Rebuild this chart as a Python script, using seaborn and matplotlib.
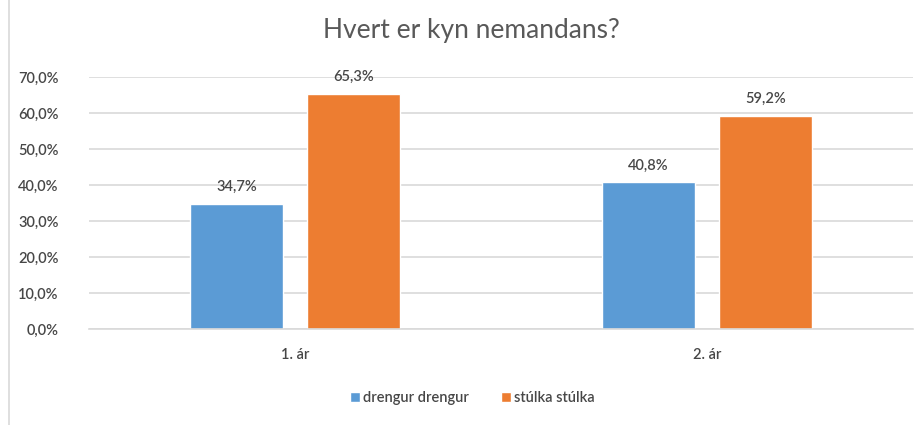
import numpy as np
import pandas as pd
import seaborn as sns
import matplotlib.pyplot as plt
from matplotlib.lines import Line2D

# gögn lesin af myndinni
ar = ['1. ár', '2. ár']
drengur = [34.7, 40.8]
stulka = [65.3, 59.2]
kyn = ['drengur drengur', 'stúlka stúlka']
y_ticks = [0, 10, 20, 30, 40, 50, 60, 70]

df = pd.DataFrame({
    'ar': ar * 2,
    'kyn': [kyn[0]] * 2 + [kyn[1]] * 2,
    'hlutfall': drengur + stulka,
})

sns.set_style('white')
plt.rcParams['font.family'] = ['Lato', 'DejaVu Sans']

fig = plt.figure(figsize=(9.22, 4.25), dpi=100)
ax = fig.add_axes([89 / 922, 96 / 425, 824 / 922, 252 / 425])

sns.barplot(data=df, x='ar', y='hlutfall', hue='kyn', order=ar, hue_order=kyn,
            palette=['#5B9BD5', '#ED7D31'], width=0.568, gap=0.205,
            saturation=1, ax=ax, legend=True)

tekst = '#474747'
for cont in ax.containers:
    ax.bar_label(cont, labels=[f'{v:.1f}%'.replace('.', ',') for v in cont.datavalues],
                 padding=7, fontsize=10.5, color=tekst, fontweight='semibold')

ax.set_ylim(0, 70)
ax.set_yticks(y_ticks)
ax.set_yticklabels([f'{t:.1f}%'.replace('.', ',') for t in y_ticks], fontsize=10.5,
                   color=tekst, fontweight='semibold')
for lbl in ax.get_xticklabels():
    lbl.set_fontweight('semibold')
ax.tick_params(axis='x', labelsize=10.5, labelcolor=tekst, pad=14, length=0)
ax.tick_params(axis='y', length=0, pad=22)
ax.yaxis.grid(True, color='#D9D9D9', linewidth=1.2)
ax.set_axisbelow(True)
for s in ['top', 'right', 'left']:
    ax.spines[s].set_visible(False)
ax.spines['bottom'].set_color('#D9D9D9')
ax.spines['bottom'].set_linewidth(1.2)
ax.set_xlabel('')
ax.set_ylabel('')

fig.suptitle('Hvert er kyn nemandans?', x=471 / 922, y=1 - 18 / 425, va='top',
             fontsize=19, color='#595959')

ax.legend(loc='center', bbox_to_anchor=(472 / 922, 27 / 425), bbox_transform=fig.transFigure,
          ncol=2, frameon=False, prop={'size': 10.5, 'weight': 'semibold'}, labelcolor=tekst,
          handlelength=0.7, handleheight=0.7, handletextpad=0.2, columnspacing=2.2)

fig.add_artist(Line2D([9 / 922, 9 / 922], [0, 1], color='#D9D9D9', linewidth=1.2,
                      transform=fig.transFigure))

fig.savefig('out.png', dpi=100)
